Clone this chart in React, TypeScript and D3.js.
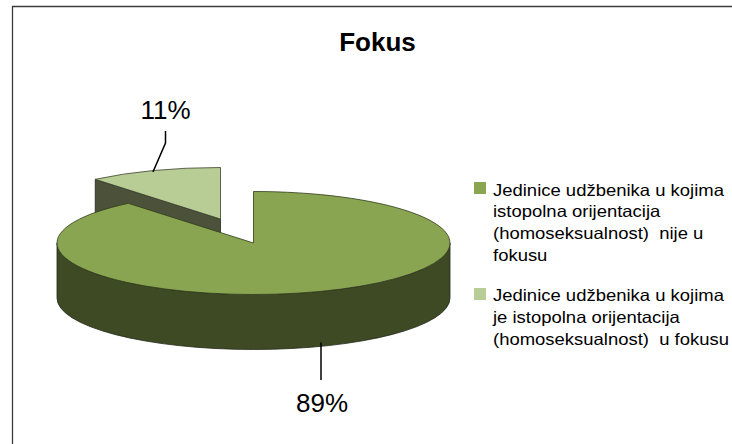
import React from "react";
import * as d3 from "d3";

const categories = [
  ["Jedinice udžbenika u kojima", "istopolna orijentacija", "(homoseksualnost)  nije u", "fokusu"],
  ["Jedinice udžbenika u kojima", "je istopolna orijentacija", "(homoseksualnost)  u fokusu"],
];
const values = [89, 11];
const labels = ["89%", "11%"];
const topColors = ["#8aa551", "#b8cc96"];
const title = "Fokus";

const W = 732, H = 444;
const rx = 196.5, ry = 51.5, depth = 55;
const centers: [number, number][] = [[253.5, 243], [220.5, 219]];
const FONT = "'Liberation Sans', Arial, sans-serif";

const pie = d3.pie<number>().sort(null)(values);
const sx = d3.scaleLinear().domain([-1, 1]).range([-rx, rx]);
const sy = d3.scaleLinear().domain([-1, 1]).range([-ry, ry]);
const pt = (a: number, c: [number, number], dy = 0): [number, number] => [
  c[0] + sx(Math.sin(a)),
  c[1] + sy(-Math.cos(a)) + dy,
];
const topPath = (i: number) => {
  const { startAngle: s, endAngle: e } = pie[i];
  const c = centers[i];
  const p0 = pt(s, c), p1 = pt(e, c);
  const large = e - s > Math.PI ? 1 : 0;
  return `M${c[0]},${c[1]}L${p0[0]},${p0[1]}A${rx},${ry} 0 ${large} 1 ${p1[0]},${p1[1]}Z`;
};
const bigWall = () => {
  const c = centers[0];
  const a = pt(Math.PI / 2, c), b = pt((3 * Math.PI) / 2, c);
  return `M${a[0]},${a[1]}A${rx},${ry} 0 0 1 ${b[0]},${b[1]}L${b[0]},${b[1] + depth}A${rx},${ry} 0 0 0 ${a[0]},${a[1] + depth}Z`;
};
const smallFace = () => {
  const c = centers[1];
  const p = pt(pie[1].startAngle, c);
  return `M${c[0]},${c[1]}L${p[0]},${p[1]}L${p[0]},${p[1] + depth}L${c[0]},${c[1] + depth}Z`;
};

export default function App() {
  const leaderSmall = pt((pie[1].startAngle + pie[1].endAngle) / 2, centers[1]);
  const bigMid = pt(Math.PI * 0.91, centers[0], depth);
  return (
    <svg
      width={W}
      height={H}
      style={{ position: "absolute", left: 0, top: 0, background: "#fff" }}
      fontFamily={FONT}
    >
      <path d={`M12.5,${H}V6.5H${W}`} fill="none" stroke="#3c3c3c" strokeWidth={1.3} />
      <text x={377.5} y={50.5} textAnchor="middle" fontSize={26} fontWeight="bold" fill="#000">
        {title}
      </text>

      <path d={smallFace()} fill="#4b5239" stroke="#22261a" strokeWidth={0.8} />
      <path d={topPath(1)} fill={topColors[1]} stroke="#3d4530" strokeWidth={0.8} />
      <path d={bigWall()} fill="#3e4a23" stroke="#22281a" strokeWidth={0.8} />
      <path d={topPath(0)} fill={topColors[0]} stroke="#2e3a1a" strokeWidth={0.8} />

      <path
        d={`M165.5,131V143L${leaderSmall[0] - 1},172`}
        fill="none"
        stroke="#000"
        strokeWidth={1.5}
      />
      <path d={`M321,${bigMid[1] - 5}V380`} fill="none" stroke="#000" strokeWidth={1.5} />
      <text x={165.5} y={119} textAnchor="middle" fontSize={26} fill="#000">
        {labels[1]}
      </text>
      <text x={322} y={412} textAnchor="middle" fontSize={26} fill="#000">
        {labels[0]}
      </text>

      {categories.map((lines, i) => {
        const y0 = [195.5, 301][i];
        return (
          <g key={i}>
            <rect x={474} y={[182, 288][i]} width={12} height={12} fill={topColors[i]} />
            {lines.map((l, j) => (
              <text
                key={j}
                transform={`translate(493,${y0 + j * 21.9}) scale(1.12,1)`}
                fontSize={16.5}
                fill="#000"
                style={{ whiteSpace: "pre" }}
              >
                {l}
              </text>
            ))}
          </g>
        );
      })}
    </svg>
  );
}
